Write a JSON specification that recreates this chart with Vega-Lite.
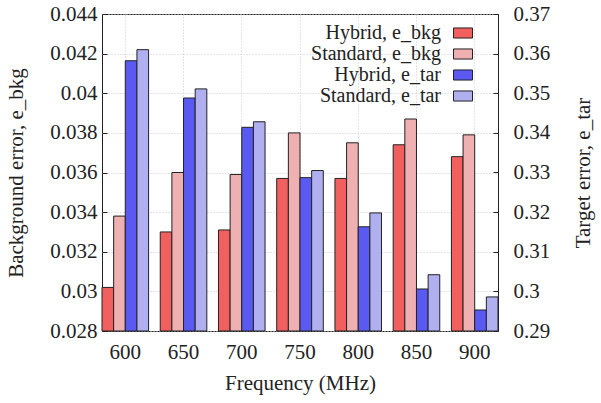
{
  "$schema": "https://vega.github.io/schema/vega-lite/v6.json",
  "width": 396,
  "height": 317,
  "autosize": {"type": "none"},
  "padding": {"left": 102, "top": 14, "right": 103, "bottom": 72},
  "background": "white",
  "config": {
    "font": "Liberation Serif",
    "view": {"stroke": "#222", "strokeWidth": 1},
    "style": {
      "guide-label": {"font": "Liberation Serif"},
      "guide-title": {"font": "Liberation Serif"}
    },
    "axis": {
      "labelFont": "Liberation Serif",
      "titleFont": "Liberation Serif",
      "labelFontSize": 21,
      "titleFontSize": 21,
      "labelColor": "#222",
      "titleColor": "#222",
      "titleFontWeight": "normal",
      "domain": false,
      "tickColor": "#222",
      "tickSize": -5,
      "gridColor": "#c8c8c8",
      "gridDash": [1, 2],
      "gridWidth": 1
    },
    "legend": {
      "labelFont": "Liberation Serif",
      "labelFontSize": 20,
      "labelColor": "#222"
    }
  },
  "data": {
    "values": [
      {"freq": "600", "series": "Hybrid, e_bkg", "metric": "bkg", "value": 0.0302},
      {"freq": "600", "series": "Standard, e_bkg", "metric": "bkg", "value": 0.0338},
      {"freq": "600", "series": "Hybrid, e_tar", "metric": "tar", "value": 0.3582},
      {"freq": "600", "series": "Standard, e_tar", "metric": "tar", "value": 0.3610},
      {"freq": "650", "series": "Hybrid, e_bkg", "metric": "bkg", "value": 0.0330},
      {"freq": "650", "series": "Standard, e_bkg", "metric": "bkg", "value": 0.0360},
      {"freq": "650", "series": "Hybrid, e_tar", "metric": "tar", "value": 0.3488},
      {"freq": "650", "series": "Standard, e_tar", "metric": "tar", "value": 0.3511},
      {"freq": "700", "series": "Hybrid, e_bkg", "metric": "bkg", "value": 0.0331},
      {"freq": "700", "series": "Standard, e_bkg", "metric": "bkg", "value": 0.0359},
      {"freq": "700", "series": "Hybrid, e_tar", "metric": "tar", "value": 0.3414},
      {"freq": "700", "series": "Standard, e_tar", "metric": "tar", "value": 0.3428},
      {"freq": "750", "series": "Hybrid, e_bkg", "metric": "bkg", "value": 0.0357},
      {"freq": "750", "series": "Standard, e_bkg", "metric": "bkg", "value": 0.0380},
      {"freq": "750", "series": "Hybrid, e_tar", "metric": "tar", "value": 0.3287},
      {"freq": "750", "series": "Standard, e_tar", "metric": "tar", "value": 0.3305},
      {"freq": "800", "series": "Hybrid, e_bkg", "metric": "bkg", "value": 0.0357},
      {"freq": "800", "series": "Standard, e_bkg", "metric": "bkg", "value": 0.0375},
      {"freq": "800", "series": "Hybrid, e_tar", "metric": "tar", "value": 0.3163},
      {"freq": "800", "series": "Standard, e_tar", "metric": "tar", "value": 0.3198},
      {"freq": "850", "series": "Hybrid, e_bkg", "metric": "bkg", "value": 0.0374},
      {"freq": "850", "series": "Standard, e_bkg", "metric": "bkg", "value": 0.0387},
      {"freq": "850", "series": "Hybrid, e_tar", "metric": "tar", "value": 0.3006},
      {"freq": "850", "series": "Standard, e_tar", "metric": "tar", "value": 0.3042},
      {"freq": "900", "series": "Hybrid, e_bkg", "metric": "bkg", "value": 0.0368},
      {"freq": "900", "series": "Standard, e_bkg", "metric": "bkg", "value": 0.0379},
      {"freq": "900", "series": "Hybrid, e_tar", "metric": "tar", "value": 0.2953},
      {"freq": "900", "series": "Standard, e_tar", "metric": "tar", "value": 0.2986}
    ]
  },
  "encoding": {
    "x": {
      "field": "freq",
      "type": "ordinal",
      "scale": {"paddingInner": 0.2, "paddingOuter": 0},
      "axis": {
        "title": "Frequency (MHz)",
        "labelFont": "Liberation Serif",
        "titleFont": "Liberation Serif",
        "labelAngle": 0,
        "grid": true,
        "labelPadding": 15,
        "titlePadding": 10
      }
    },
    "xOffset": {
      "field": "series",
      "type": "nominal",
      "scale": {
        "domain": ["Hybrid, e_bkg", "Standard, e_bkg", "Hybrid, e_tar", "Standard, e_tar"],
        "paddingInner": 0,
        "paddingOuter": 0
      }
    },
    "color": {
      "field": "series",
      "type": "nominal",
      "scale": {
        "domain": ["Hybrid, e_bkg", "Standard, e_bkg", "Hybrid, e_tar", "Standard, e_tar"],
        "range": ["#f25f5f", "#eeb0b0", "#5a5af2", "#b0b0f0"]
      },
      "legend": {
        "title": null,
        "orient": "none",
        "legendX": 351,
        "legendY": 9,
        "padding": 0,
        "labelFont": "Liberation Serif",
        "symbolType": "M-1,-0.53H1V0.53H-1Z",
        "symbolSize": 361,
        "symbolStrokeColor": "#222",
        "symbolStrokeWidth": 1,
        "symbolOpacity": 1,
        "labelAlign": "right",
        "labelOffset": -32,
        "rowPadding": 1
      }
    }
  },
  "layer": [
    {
      "transform": [{"filter": "datum.metric === 'bkg'"}],
      "mark": {"type": "bar", "stroke": "#222", "strokeWidth": 1, "opacity": 1},
      "encoding": {
        "y": {
          "field": "value",
          "type": "quantitative",
          "scale": {"domain": [0.028, 0.044], "zero": false, "nice": false},
          "axis": {
            "title": "Background error, e_bkg",
            "labelFont": "Liberation Serif",
            "titleFont": "Liberation Serif",
            "values": [0.028, 0.03, 0.032, 0.034, 0.036, 0.038, 0.04, 0.042, 0.044],
            "format": ".3~f",
            "grid": true,
            "labelPadding": 10,
            "titlePadding": 23
          }
        },
        "y2": {"datum": 0.028}
      }
    },
    {
      "transform": [{"filter": "datum.metric === 'tar'"}],
      "mark": {"type": "bar", "stroke": "#222", "strokeWidth": 1, "opacity": 1},
      "encoding": {
        "y": {
          "field": "value",
          "type": "quantitative",
          "scale": {"domain": [0.29, 0.37], "zero": false, "nice": false},
          "axis": {
            "title": "Target error, e_tar",
            "labelFont": "Liberation Serif",
            "titleFont": "Liberation Serif",
            "orient": "right",
            "values": [0.29, 0.3, 0.31, 0.32, 0.33, 0.34, 0.35, 0.36, 0.37],
            "format": ".2~f",
            "grid": false,
            "titleAngle": 270,
            "labelPadding": 20,
            "titlePadding": 44
          }
        },
        "y2": {"datum": 0.29}
      }
    }
  ],
  "resolve": {"scale": {"y": "independent"}, "axis": {"y": "independent"}}
}
